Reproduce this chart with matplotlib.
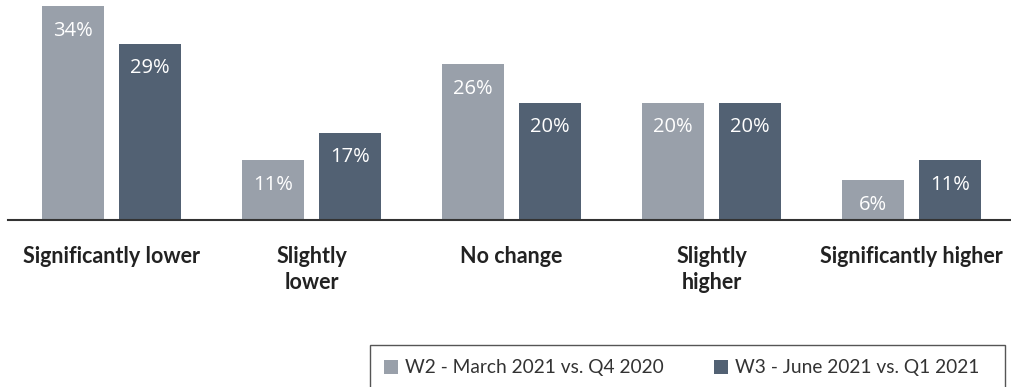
import matplotlib
matplotlib.use("Agg")
import matplotlib.pyplot as plt
from matplotlib.patches import Rectangle
import numpy as np

categories = ["Significantly lower", "Slightly\nlower", "No change", "Slightly\nhigher", "Significantly higher"]
series_names = ["W2 - March 2021 vs. Q4 2020", "W3 - June 2021 vs. Q1 2021"]
# bar heights as drawn in the picture
w2_heights = [34.0, 9.5, 24.8, 18.7, 6.3]
w3_heights = [28.1, 13.9, 18.7, 18.7, 9.5]
# value labels as printed
w2_labels = ["34%", "11%", "26%", "20%", "6%"]
w3_labels = ["29%", "17%", "20%", "20%", "11%"]

light = "#99A0AA"
dark = "#526173"

W, H = 1011, 387
fig = plt.figure(figsize=(W / 100, H / 100), dpi=100)
ax = fig.add_axes([8 / W, 167 / H, 1003 / W, 220 / H])

x = np.arange(len(categories))
bw = 62 / 200
off = 77 / 200 / 2
b1 = ax.bar(x - off, w2_heights, width=bw, color=light, label=series_names[0])
b2 = ax.bar(x + off, w3_heights, width=bw, color=dark, label=series_names[1])

for bars, labs in ((b1, w2_labels), (b2, w3_labels)):
    for r, lab in zip(bars, labs):
        ax.annotate(lab, (r.get_x() + r.get_width() / 2, r.get_height()),
                    xytext=(0, -21.4), textcoords="offset points",
                    ha="center", va="baseline", color="white", fontsize=14.5,
                    family="Open Sans")

ax.set_xlim(-0.5175, 4.4975)
ax.set_ylim(0, 220 / 6.28)
for s in ("left", "right", "top"):
    ax.spines[s].set_visible(False)
ax.spines["bottom"].set_color("#333333")
ax.spines["bottom"].set_linewidth(1.5)
ax.set_xticks([])
ax.set_yticks([])

for i, c in enumerate(categories):
    ax.annotate(c, (i, 0), xytext=(0, -19.0), textcoords="offset points",
                ha="center", va="top", fontsize=15.5, fontweight="bold",
                family="Lato", color="#222222", linespacing=1.25,
                annotation_clip=False)

# legend frame (box runs past the bottom edge of the figure)
fig.patches.append(Rectangle((370 / W, -20 / H), (1005 - 370) / W, (20 + 387 - 345) / H,
                             transform=fig.transFigure, fill=False,
                             edgecolor="#555555", linewidth=1.0))
leg = fig.legend(handles=[b1, b2], loc="center left",
                 bbox_to_anchor=(384 / W, 1 - 368 / H), ncol=2,
                 frameon=False,
                 handlelength=0.74, handleheight=0.74, handletextpad=0.37,
                 columnspacing=2.6, borderpad=0, borderaxespad=0,
                 prop={"family": "Lato", "size": 13.8})
for t in leg.get_texts():
    t.set_color("#333333")

fig.savefig("out.png", dpi=100)
